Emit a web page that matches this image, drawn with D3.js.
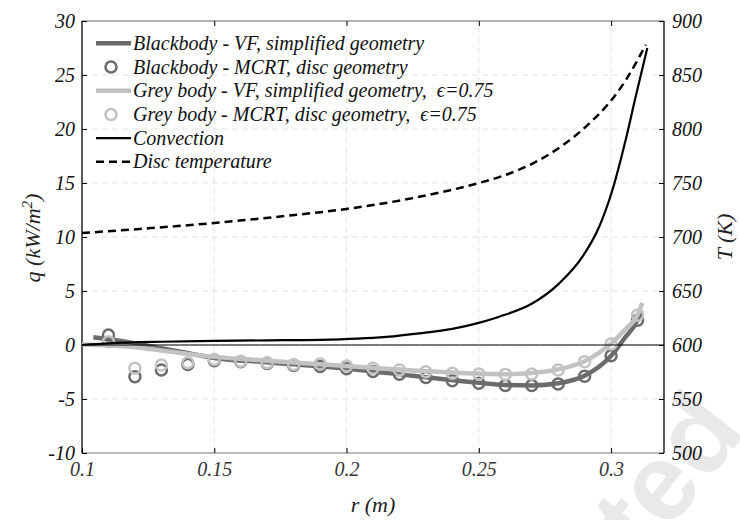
<!DOCTYPE html>
<html>
<head>
<meta charset="utf-8">
<script src="https://cdn.jsdelivr.net/npm/d3@7"></script>
<style>
  body { margin: 0; background: #fff; }
  text { font-family: "Liberation Serif", "Times New Roman", serif; font-style: italic; }
</style>
</head>
<body>
<div id="chart"></div>
<script>
// radial position (m)
const mcrtR = [0.11, 0.12, 0.13, 0.14, 0.15, 0.16, 0.17, 0.18, 0.19, 0.2, 0.21,
               0.22, 0.23, 0.24, 0.25, 0.26, 0.27, 0.28, 0.29, 0.3, 0.31];
const mcrtBlack = [0.93, -2.93, -2.31, -1.8, -1.45, -1.55, -1.72, -1.9, -2.0, -2.2, -2.45,
                   -2.7, -3.0, -3.3, -3.55, -3.75, -3.75, -3.6, -2.9, -1.0, 2.3];
const mcrtGrey = [0.3, -2.16, -1.85, -1.65, -1.35, -1.5, -1.65, -1.8, -1.75, -1.95, -2.16,
                  -2.31, -2.47, -2.62, -2.69, -2.72, -2.69, -2.31, -1.54, 0.1, 2.75];

const vfBlackR = [0.1043, 0.12, 0.13, 0.1377, 0.15, 0.17, 0.2, 0.225, 0.25, 0.26, 0.27, 0.28, 0.29, 0.3, 0.305, 0.31, 0.3115];
const vfBlack = [0.71, 0.15, -0.3, -0.65, -1.2, -1.6, -2.2, -2.85, -3.5, -3.7, -3.75, -3.55, -2.85, -1.0, 0.6, 2.3, 3.2];

const vfGreyR = [0.1, 0.12, 0.13, 0.15, 0.17, 0.2, 0.225, 0.25, 0.26, 0.27, 0.28, 0.29, 0.3, 0.305, 0.31, 0.3118];
const vfGrey = [0.05, -0.2, -0.5, -1.1, -1.45, -1.95, -2.35, -2.65, -2.7, -2.6, -2.25, -1.5, 0.15, 1.35, 2.8, 3.9];

const convR = [0.1, 0.11, 0.13, 0.15, 0.17, 0.19, 0.215, 0.2275, 0.24, 0.25, 0.2577, 0.2703,
               0.2804, 0.2892, 0.2955, 0.3005, 0.3055, 0.3093, 0.3137];
const conv = [0.0, 0.15, 0.3, 0.38, 0.43, 0.48, 0.75, 1.08, 1.5, 2.05, 2.62, 3.86,
              5.71, 8.18, 10.95, 14.35, 18.98, 23.0, 27.5];

const tempR = [0.1, 0.125, 0.15, 0.175, 0.2, 0.225, 0.25, 0.259, 0.2703, 0.2829, 0.2917, 0.2992, 0.3055, 0.3131];
const temp = [703.7, 708, 713, 719, 726, 736, 750, 756.5, 768, 787, 805, 824, 845, 878];

const xTicks = [0.1, 0.15, 0.2, 0.25, 0.3];
const qTicks = [-10, -5, 0, 5, 10, 15, 20, 25, 30];
const tTicks = [500, 550, 600, 650, 700, 750, 800, 850, 900];

const legendLabels = [
  "Blackbody - VF, simplified geometry",
  "Blackbody - MCRT, disc geometry",
  "Grey body - VF, simplified geometry,\u00a0\u00a0\u03f5=0.75",
  "Grey body - MCRT, disc geometry,\u00a0\u00a0\u03f5=0.75",
  "Convection",
  "Disc temperature"
];

const width = 740, height = 520;
const margin = { top: 21, right: 76, bottom: 67, left: 82 };
const darkGrey = '#6b6b6b', lightGrey = '#c2c2c2';

const svg = d3.select('#chart').append('svg').attr('width', width).attr('height', height);

// watermark, only its tail end shows in the corner
svg.append('text')
  .attr('transform', 'translate(747,431) rotate(-52)')
  .attr('text-anchor', 'end')
  .style('font-family', '"Liberation Sans", Arial, sans-serif')
  .style('font-style', 'normal').style('font-weight', 'bold')
  .attr('font-size', 110).attr('fill', '#e9e9e9')
  .text('Accepted');

const x = d3.scaleLinear().domain([0.1, 0.32]).range([margin.left, width - margin.right]);
const y = d3.scaleLinear().domain([-10, 30]).range([height - margin.bottom, margin.top]);
const yT = d3.scaleLinear().domain([500, 900]).range([height - margin.bottom, margin.top]);

// grid
const grid = svg.append('g').attr('stroke', '#e4e4e4').attr('stroke-dasharray', '6,4').attr('stroke-width', 1);
grid.selectAll('line.gx').data(xTicks.slice(1)).enter().append('line')
  .attr('x1', d => x(d)).attr('x2', d => x(d)).attr('y1', y(-10)).attr('y2', y(30));
grid.selectAll('line.gy').data(qTicks.slice(1, -1)).enter().append('line')
  .attr('x1', x(0.1)).attr('x2', x(0.32)).attr('y1', d => y(d)).attr('y2', d => y(d));

// frame
svg.append('line').attr('x1', x(0.1)).attr('x2', x(0.32)).attr('y1', y(30)).attr('y2', y(30)).attr('stroke', '#666');
svg.append('line').attr('x1', x(0.1)).attr('x2', x(0.32)).attr('y1', y(-10)).attr('y2', y(-10)).attr('stroke', '#777');

// axes
const xAxis = svg.append('g').attr('transform', `translate(0,${y(-10)})`)
  .call(d3.axisBottom(x).tickValues(xTicks).tickFormat(d3.format('')).tickSize(-5).tickPadding(9));
const xTop = svg.append('g').attr('transform', `translate(0,${y(30)})`)
  .call(d3.axisTop(x).tickValues(xTicks.slice(1)).tickFormat('').tickSize(-5));
const yAxis = svg.append('g').attr('transform', `translate(${x(0.1)},0)`)
  .call(d3.axisLeft(y).tickValues(qTicks).tickFormat(d => String(d)).tickSize(-5).tickPadding(7));
const yRight = svg.append('g').attr('transform', `translate(${x(0.32)},0)`)
  .call(d3.axisRight(yT).tickValues(tTicks).tickFormat(d => String(d)).tickSize(-5).tickPadding(8));

[xAxis, xTop, yAxis, yRight].forEach(a => {
  a.selectAll('.domain').remove();
  a.selectAll('.tick line').attr('stroke', '#000');
  a.selectAll('.tick text').attr('font-size', 20).attr('font-family', null).attr('fill', '#111');
});
xAxis.selectAll('.tick text').attr('fill', '#333');
svg.append('line').attr('x1', x(0.1)).attr('x2', x(0.1)).attr('y1', y(-10)).attr('y2', y(30)).attr('stroke', '#000').attr('stroke-width', 1.3);
svg.append('line').attr('x1', x(0.32)).attr('x2', x(0.32)).attr('y1', y(-10)).attr('y2', y(30)).attr('stroke', '#000').attr('stroke-width', 1.3);

// series
const line = d3.line().curve(d3.curveMonotoneX);
const pts = (rs, vs, sc) => rs.map((r, i) => [x(r), sc(vs[i])]);

svg.append('path').attr('d', line(pts(vfBlackR, vfBlack, y)))
  .attr('fill', 'none').attr('stroke', darkGrey).attr('stroke-width', 4.5);
svg.append('g').selectAll('circle').data(mcrtR).enter().append('circle')
  .attr('cx', d => x(d)).attr('cy', (d, i) => y(mcrtBlack[i])).attr('r', 5.5)
  .attr('fill', 'none').attr('stroke', darkGrey).attr('stroke-width', 2.5);
svg.append('path').attr('d', line(pts(vfGreyR, vfGrey, y)))
  .attr('fill', 'none').attr('stroke', lightGrey).attr('stroke-width', 4.5);
svg.append('g').selectAll('circle').data(mcrtR).enter().append('circle')
  .attr('cx', d => x(d)).attr('cy', (d, i) => y(mcrtGrey[i])).attr('r', 5.5)
  .attr('fill', 'none').attr('stroke', lightGrey).attr('stroke-width', 2.5);

// zero line
svg.append('line').attr('x1', x(0.1)).attr('x2', x(0.32)).attr('y1', y(0)).attr('y2', y(0))
  .attr('stroke', '#000').attr('stroke-width', 1.2);

svg.append('path').attr('d', line(pts(convR, conv, y)))
  .attr('fill', 'none').attr('stroke', '#000').attr('stroke-width', 2.2);
svg.append('path').attr('d', line(pts(tempR, temp, yT)))
  .attr('fill', 'none').attr('stroke', '#000').attr('stroke-width', 2.5).attr('stroke-dasharray', '8,5');

// legend
const leg = svg.append('g');
const rowY = i => 43.3 + i * 23.7;
const styles = [
  { type: 'line', color: darkGrey, w: 4.5 },
  { type: 'circle', color: darkGrey },
  { type: 'line', color: lightGrey, w: 4.5 },
  { type: 'circle', color: lightGrey },
  { type: 'line', color: '#000', w: 2.2 },
  { type: 'line', color: '#000', w: 2.5, dash: '8,5' }
];
styles.forEach((s, i) => {
  if (s.type === 'line') {
    leg.append('line').attr('x1', 96).attr('x2', 131).attr('y1', rowY(i)).attr('y2', rowY(i))
      .attr('stroke', s.color).attr('stroke-width', s.w).attr('stroke-dasharray', s.dash || null);
  } else {
    leg.append('circle').attr('cx', 111).attr('cy', rowY(i)).attr('r', 5.5)
      .attr('fill', 'none').attr('stroke', s.color).attr('stroke-width', 2.5);
  }
  leg.append('text').attr('x', 133).attr('y', rowY(i) + 6.5).attr('font-size', 20).attr('fill', '#111')
    .text(legendLabels[i]);
});

// axis titles
svg.append('text').attr('x', x(0.21)).attr('y', 512).attr('text-anchor', 'middle').attr('font-size', 22)
  .attr('fill', '#222').text('r (m)');
const qLab = svg.append('text').attr('transform', 'translate(40,238) rotate(-90)')
  .attr('text-anchor', 'middle').attr('font-size', 22).attr('fill', '#222');
qLab.append('tspan').text('q (kW/m');
qLab.append('tspan').attr('dy', -8).attr('font-size', 15).text('2');
qLab.append('tspan').attr('dy', 8).text(')');
svg.append('text').attr('transform', 'translate(732,237) rotate(-90)')
  .attr('text-anchor', 'middle').attr('font-size', 22).attr('fill', '#222').text('T (K)');
</script>
</body>
</html>
